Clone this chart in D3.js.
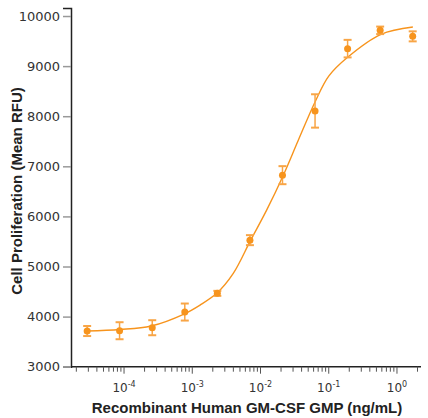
<!DOCTYPE html>
<html>
<head>
<meta charset="utf-8">
<script src="https://cdn.jsdelivr.net/npm/d3@7"></script>
<style>
  body { margin: 0; background: #fff; }
  svg { display: block; font-family: "DejaVu Sans", sans-serif; }
</style>
</head>
<body>
<svg id="chart"></svg>
<script>
// measured points (ng/mL, mean RFU, error)
const concentrations = [2.88e-5, 8.6e-5, 2.59e-4, 7.77e-4, 2.33e-3, 7.0e-3, 0.021, 0.063, 0.189, 0.567, 1.7]
const meanRFU = [3712, 3718, 3778, 4091, 4464, 5526, 6823, 8105, 9349, 9714, 9594]
const errRFU = [100, 170, 150, 170, 50, 100, 180, 333, 175, 75, 100]

// fitted curve
const curveConc = [2.87e-5, 8.73e-5, 2.49e-4, 7.57e-4, 1.30e-3, 2.28e-3, 3.99e-3, 7.18e-3, 0.0123, 0.0216, 0.0358, 0.0630, 0.1, 0.191, 0.583, 1.71]
const curveRFU = [3712, 3742, 3812, 4051, 4230, 4464, 4862, 5526, 6125, 6823, 7520, 8284, 8800, 9181, 9634, 9780]

const yTicks = [3000, 4000, 5000, 6000, 7000, 8000, 9000, 10000]
const xMajor = [1e-4, 1e-3, 1e-2, 1e-1, 1]
const xMajorExp = ["-4", "-3", "-2", "-1", "0"]

drawChart()

function drawChart() {
  const width = 428
  const height = 418
  const orange = '#f7941d'

  const svg = d3.select('#chart')
    .attr('width', width)
    .attr('height', height)

  const x = d3.scaleLog()
    .domain([1.67e-5, 2.25])
    .range([71, 421])

  const y = d3.scaleLinear()
    .domain([3000, 10160])
    .range([366.7, 8])

  // y axis
  const yAxis = svg.append('g')
    .attr('transform', 'translate(71,0)')
    .call(d3.axisLeft(y).tickValues(yTicks).tickSize(8).tickPadding(3).tickFormat(d3.format('d')))
  yAxis.select('.domain').attr('stroke', '#222').attr('stroke-width', 1.5)
  yAxis.selectAll('.tick line').attr('stroke', '#999').attr('stroke-width', 1.5)
  yAxis.selectAll('.tick text')
    .attr('fill', '#333')
    .style('font-size', '13px')
    .style('font-family', '"DejaVu Sans", sans-serif')

  // x axis: minor ticks 2..9 for every decade
  const minor = []
  for (let e = -5; e <= 0; e++) {
    for (let m = 2; m <= 9; m++) {
      const v = m * Math.pow(10, e)
      if (v >= x.domain()[0] && v <= x.domain()[1]) minor.push(v)
    }
  }

  const xAxis = svg.append('g')
    .attr('transform', 'translate(0,366.7)')
  xAxis.append('line')
    .attr('x1', 71).attr('x2', 421)
    .attr('stroke', '#222').attr('stroke-width', 1.5)
  xAxis.selectAll('.minor')
    .data(minor)
    .enter()
    .append('line')
    .attr('x1', d => x(d)).attr('x2', d => x(d))
    .attr('y1', 0).attr('y2', 5)
    .attr('stroke', '#555').attr('stroke-width', 1)
  xAxis.selectAll('.major')
    .data(xMajor)
    .enter()
    .append('line')
    .attr('x1', d => x(d)).attr('x2', d => x(d))
    .attr('y1', 0).attr('y2', 7)
    .attr('stroke', '#555').attr('stroke-width', 1)

  const lbl = xAxis.selectAll('.lbl')
    .data(xMajor)
    .enter()
    .append('text')
    .attr('x', d => x(d))
    .attr('y', 25)
    .attr('text-anchor', 'middle')
    .attr('fill', '#333')
    .style('font-size', '12px')
  lbl.append('tspan').text('10')
  lbl.append('tspan')
    .attr('dy', -5)
    .style('font-size', '8px')
    .text((d, i) => xMajorExp[i])

  // fitted curve
  const line = d3.line()
    .x((d, i) => x(curveConc[i]))
    .y(d => y(d))
    .curve(d3.curveCatmullRom)

  svg.append('path')
    .datum(curveRFU)
    .attr('d', line)
    .attr('fill', 'none')
    .attr('stroke', orange)
    .attr('stroke-width', 1.4)

  // error bars
  const bars = svg.append('g')
    .selectAll('g')
    .data(meanRFU)
    .enter()
    .append('g')
    .attr('stroke', '#f8a546')

  bars.append('line')
    .attr('x1', (d, i) => x(concentrations[i]))
    .attr('x2', (d, i) => x(concentrations[i]))
    .attr('y1', (d, i) => y(d + errRFU[i]))
    .attr('y2', (d, i) => y(d - errRFU[i]))
    .attr('stroke-width', 1.5)

  bars.append('line')
    .attr('x1', (d, i) => x(concentrations[i]) - 4)
    .attr('x2', (d, i) => x(concentrations[i]) + 4)
    .attr('y1', (d, i) => y(d + errRFU[i]))
    .attr('y2', (d, i) => y(d + errRFU[i]))
    .attr('stroke-width', 2)

  bars.append('line')
    .attr('x1', (d, i) => x(concentrations[i]) - 4)
    .attr('x2', (d, i) => x(concentrations[i]) + 4)
    .attr('y1', (d, i) => y(d - errRFU[i]))
    .attr('y2', (d, i) => y(d - errRFU[i]))
    .attr('stroke-width', 2)

  svg.append('g')
    .selectAll('circle')
    .data(meanRFU)
    .enter()
    .append('circle')
    .attr('cx', (d, i) => x(concentrations[i]))
    .attr('cy', d => y(d))
    .attr('r', 3.5)
    .attr('fill', orange)

  // axis titles
  svg.append('text')
    .attr('x', 247)
    .attr('y', 413)
    .attr('text-anchor', 'middle')
    .attr('fill', '#222')
    .style('font-size', '15px')
    .style('font-weight', 'bold')
    .style('font-family', '"Liberation Sans", sans-serif')
    .text('Recombinant Human GM-CSF GMP (ng/mL)')

  svg.append('text')
    .attr('transform', 'translate(22,191) rotate(-90)')
    .attr('text-anchor', 'middle')
    .attr('fill', '#222')
    .style('font-size', '15px')
    .style('font-weight', 'bold')
    .style('font-family', '"Liberation Sans", sans-serif')
    .text('Cell Proliferation (Mean RFU)')
}
</script>
</body>
</html>
